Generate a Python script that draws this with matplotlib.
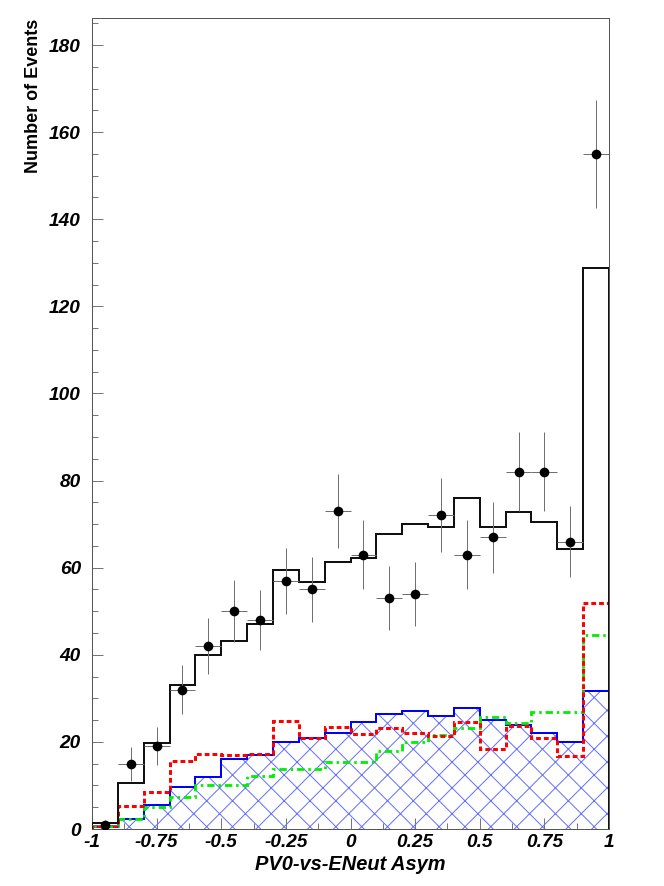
import numpy as np
import matplotlib
matplotlib.use("Agg")
import matplotlib.pyplot as plt
from matplotlib.ticker import MultipleLocator, FixedLocator

# ---------------- data ----------------
bin_edges = np.round(np.linspace(-1.0, 1.0, 21), 3)
data_counts = [1, 15, 19, 32, 42, 50, 48, 57, 55, 73,
               63, 53, 54, 72, 63, 67, 82, 82, 66, 155]
total_mc = [1.3, 10.6, 19.7, 33.1, 40.0, 43.2, 47.0, 59.5, 56.6, 61.4,
            62.3, 67.8, 70.1, 69.4, 76.1, 69.4, 72.8, 70.4, 64.4, 128.8]
blue_mc = [0.5, 2.4, 5.5, 9.6, 12.0, 16.0, 17.0, 20.0, 21.0, 22.0,
           24.5, 26.5, 27.2, 26.0, 27.7, 25.0, 23.9, 22.1, 20.0, 31.7]
red_mc = [0.8, 5.3, 8.5, 15.7, 17.2, 17.0, 17.2, 24.9, 21.0, 23.4,
          21.7, 23.3, 22.1, 21.4, 24.6, 18.3, 23.7, 20.8, 16.8, 52.0]
green_mc = [0.6, 2.2, 5.0, 7.3, 10.0, 10.0, 12.2, 13.8, 13.8, 15.4,
            15.4, 17.8, 20.0, 21.6, 23.3, 25.6, 24.4, 26.9, 26.9, 44.5]
x_tick_values = [-1, -0.75, -0.5, -0.25, 0, 0.25, 0.5, 0.75, 1]
x_tick_labels = ["-1", "-0.75", "-0.5", "-0.25", "0", "0.25", "0.5", "0.75", "1"]
y_tick_values = [0, 20, 40, 60, 80, 100, 120, 140, 160, 180]
x_title = "PV0-vs-ENeut Asym"
y_title = "Number of Events"

# ---------------- figure ----------------
DPI = 155
W, H = 664, 886
px = 72.0 / DPI  # points per pixel

plt.rcParams['font.family'] = ['Liberation Sans', 'DejaVu Sans']
plt.rcParams['hatch.linewidth'] = 1.0 * px

fig = plt.figure(figsize=(W / DPI, H / DPI), dpi=DPI)
ax = fig.add_axes([92 / W, 1 - 829 / H, (609 - 92) / W, (829 - 18) / H])

edges = bin_edges
centers = 0.5 * (edges[:-1] + edges[1:])
halfw = 0.5 * (edges[1] - edges[0])

# hatched blue component
ax.stairs(blue_mc, edges, baseline=0, fill=True, facecolor='none',
          edgecolor=(0.2, 0.25, 1.0, 0.75), hatch='xx', linewidth=0, zorder=1)
ax.stairs(blue_mc, edges, baseline=0, color='#0000ff', linewidth=2.0 * px, zorder=3)
ax.stairs(green_mc, edges, baseline=0, color='#00ee00', linewidth=2.8 * px,
          linestyle=(0, (2.6, 1.4, 0.9, 1.4)), zorder=4)
ax.stairs(red_mc, edges, baseline=0, color='#ff0000', linewidth=3.0 * px,
          linestyle=(0, (1.6, 1.0)), zorder=5)
ax.stairs(total_mc, edges, baseline=0, color='#111111', linewidth=2.0 * px, zorder=6)

# data points
yerr = np.sqrt(np.array(data_counts, dtype=float))
ax.errorbar(centers, data_counts, yerr=yerr, xerr=halfw, fmt='none',
            ecolor='#707070', elinewidth=1.0 * px, capsize=0, zorder=7)
ax.plot(centers, data_counts, 'o', color='black', markersize=7.5 * px, zorder=8)

# axes
ax.set_xlim(-1, 1)
ax.set_ylim(0, 186.2)
ax.xaxis.set_major_locator(FixedLocator(x_tick_values))
ax.set_xticklabels(x_tick_labels)
ax.xaxis.set_minor_locator(MultipleLocator(0.125))
ax.yaxis.set_major_locator(FixedLocator(y_tick_values))
ax.set_yticklabels([str(v) for v in y_tick_values])
ax.yaxis.set_minor_locator(MultipleLocator(5))

for s in ax.spines.values():
    s.set_linewidth(1.0 * px)
    s.set_color('#555555')

ax.tick_params(which='both', direction='in', top=False, right=False,
               color='#777777', width=1.0 * px)
ax.tick_params(which='major', length=11 * px)
ax.tick_params(which='minor', length=6 * px)
ax.tick_params(axis='y', which='major', pad=11 * px)
ax.tick_params(axis='x', which='major', pad=5 * px)

tick_font = dict(family=['Liberation Sans', 'DejaVu Sans'], weight='bold', style='italic',
                 size=19 * px)
for lab in ax.get_xticklabels() + ax.get_yticklabels():
    lab.set_fontproperties(matplotlib.font_manager.FontProperties(**tick_font))

fig.text((92 + 609) / 2 / W, 1 - 864 / H, x_title, ha='center', va='center',
         fontsize=20 * px, fontweight='bold', fontstyle='italic')
fig.text(34 / W, 1 - 19 / H, y_title, rotation=90, ha='center', va='top',
         fontsize=18 * px, fontweight='bold')

fig.savefig('out.png', dpi=DPI)
